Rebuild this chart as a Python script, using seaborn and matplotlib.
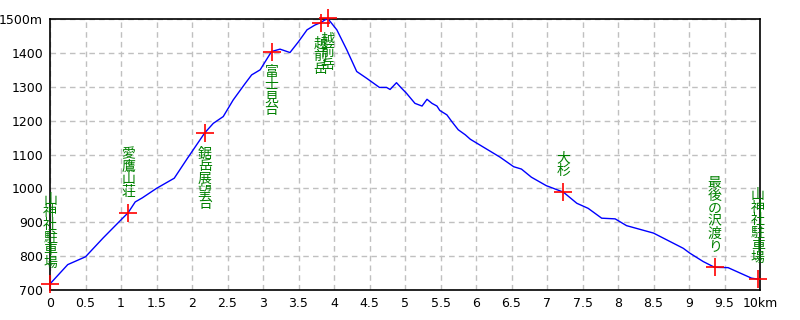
import matplotlib
matplotlib.use("Agg")
import matplotlib.pyplot as plt
import seaborn as sns
import pandas as pd

# elevation profile (km, m)
km = [0.0, 0.25, 0.5, 0.75, 1.0, 1.1, 1.2, 1.3, 1.5, 1.75, 1.93, 2.18, 2.30,
      2.44, 2.58, 2.75, 2.84, 2.96, 3.12, 3.24, 3.38, 3.50, 3.62, 3.73, 3.81,
      3.91, 4.04, 4.18, 4.32, 4.46, 4.64, 4.74, 4.79, 4.88, 4.95, 5.02, 5.14,
      5.24, 5.31, 5.38, 5.45, 5.49, 5.59, 5.66, 5.75, 5.85, 5.92, 6.34, 6.53,
      6.64, 6.78, 6.99, 7.23, 7.42, 7.58, 7.77, 7.96, 8.12, 8.31, 8.50, 8.78,
      8.92, 9.01, 9.20, 9.36, 9.55, 9.72, 9.88, 9.97]
elev = [718, 775, 798, 854, 907, 928, 960, 972, 1000, 1030, 1087, 1164, 1192,
        1212, 1261, 1310, 1335, 1350, 1404, 1411, 1401, 1433, 1468, 1482, 1489,
        1502, 1468, 1409, 1345, 1325, 1298, 1298, 1292, 1312, 1296, 1281, 1251,
        1243, 1263, 1251, 1243, 1230, 1217, 1197, 1173, 1158, 1145, 1092, 1064,
        1057, 1033, 1008, 989, 956, 941, 912, 910, 890, 879, 868, 838,
        823, 809, 784, 767, 766, 750, 735, 732]

# waypoints
wp_name = ["山神社駐車場", "愛鷹山荘", "鋸岳展望台", "富士見台", "越前岳", "越前岳",
           "大杉", "最後の沢渡り", "山神社駐車場"]
wp_km = [0.0, 1.1, 2.18, 3.12, 3.81, 3.91, 7.23, 9.36, 9.97]
wp_elev = [718, 928, 1164, 1404, 1489, 1502, 989, 767, 732]
wp_side = ["above", "above", "below", "below", "below", "below", "above", "above", "above"]

x_ticks = [i * 0.5 for i in range(21)]
x_labels = ["0", "0.5", "1", "1.5", "2", "2.5", "3", "3.5", "4", "4.5", "5",
            "5.5", "6", "6.5", "7", "7.5", "8", "8.5", "9", "9.5", "10km"]
y_ticks = [700, 800, 900, 1000, 1100, 1200, 1300, 1400, 1500]
y_labels = ["700", "800", "900", "1000", "1100", "1200", "1300", "1400", "1500m"]

sns.set_style("white")
plt.rcParams["font.family"] = ["DejaVu Sans", "Noto Sans CJK JP"]

profile = pd.DataFrame({"km": km, "elev": elev})
points = pd.DataFrame({"km": wp_km, "elev": wp_elev})

fig = plt.figure(figsize=(8, 3.2), dpi=100)
ax = fig.add_axes([50 / 800, 30 / 320, 710 / 800, 271 / 320])

sns.lineplot(data=profile, x="km", y="elev", ax=ax, color="#0000ff",
             linewidth=1.0, zorder=3)
sns.scatterplot(data=points, x="km", y="elev", ax=ax, marker="+", s=150,
                color="#ff0000", linewidth=1.2, zorder=4, clip_on=False)

for name, x, y, side in zip(wp_name, wp_km, wp_elev, wp_side):
    txt = "\n".join(name)
    if side == "above":
        ax.annotate(txt, (x, y), xytext=(0, 10), textcoords="offset points",
                    ha="center", va="bottom", color="#008000", fontsize=10,
                    linespacing=0.88, family=["Noto Sans CJK JP"],
                    annotation_clip=False, zorder=5)
    else:
        ax.annotate(txt, (x, y), xytext=(0, -10), textcoords="offset points",
                    ha="center", va="top", color="#008000", fontsize=10,
                    linespacing=0.88, family=["Noto Sans CJK JP"],
                    annotation_clip=False, zorder=5)

ax.set_xlim(0, 10)
ax.set_ylim(700, 1500)
ax.set_xticks(x_ticks)
ax.set_xticklabels(x_labels)
ax.set_yticks(y_ticks)
ax.set_yticklabels(y_labels)
ax.set_xlabel("")
ax.set_ylabel("")
ax.tick_params(length=0, labelsize=9, colors="black", pad=5)
ax.grid(True, color="#c0c0c0", linestyle=(0, (4, 3)), linewidth=1)
for s in ax.spines.values():
    s.set_color("black")
    s.set_linewidth(1.2)

fig.savefig("out.png", dpi=100)
